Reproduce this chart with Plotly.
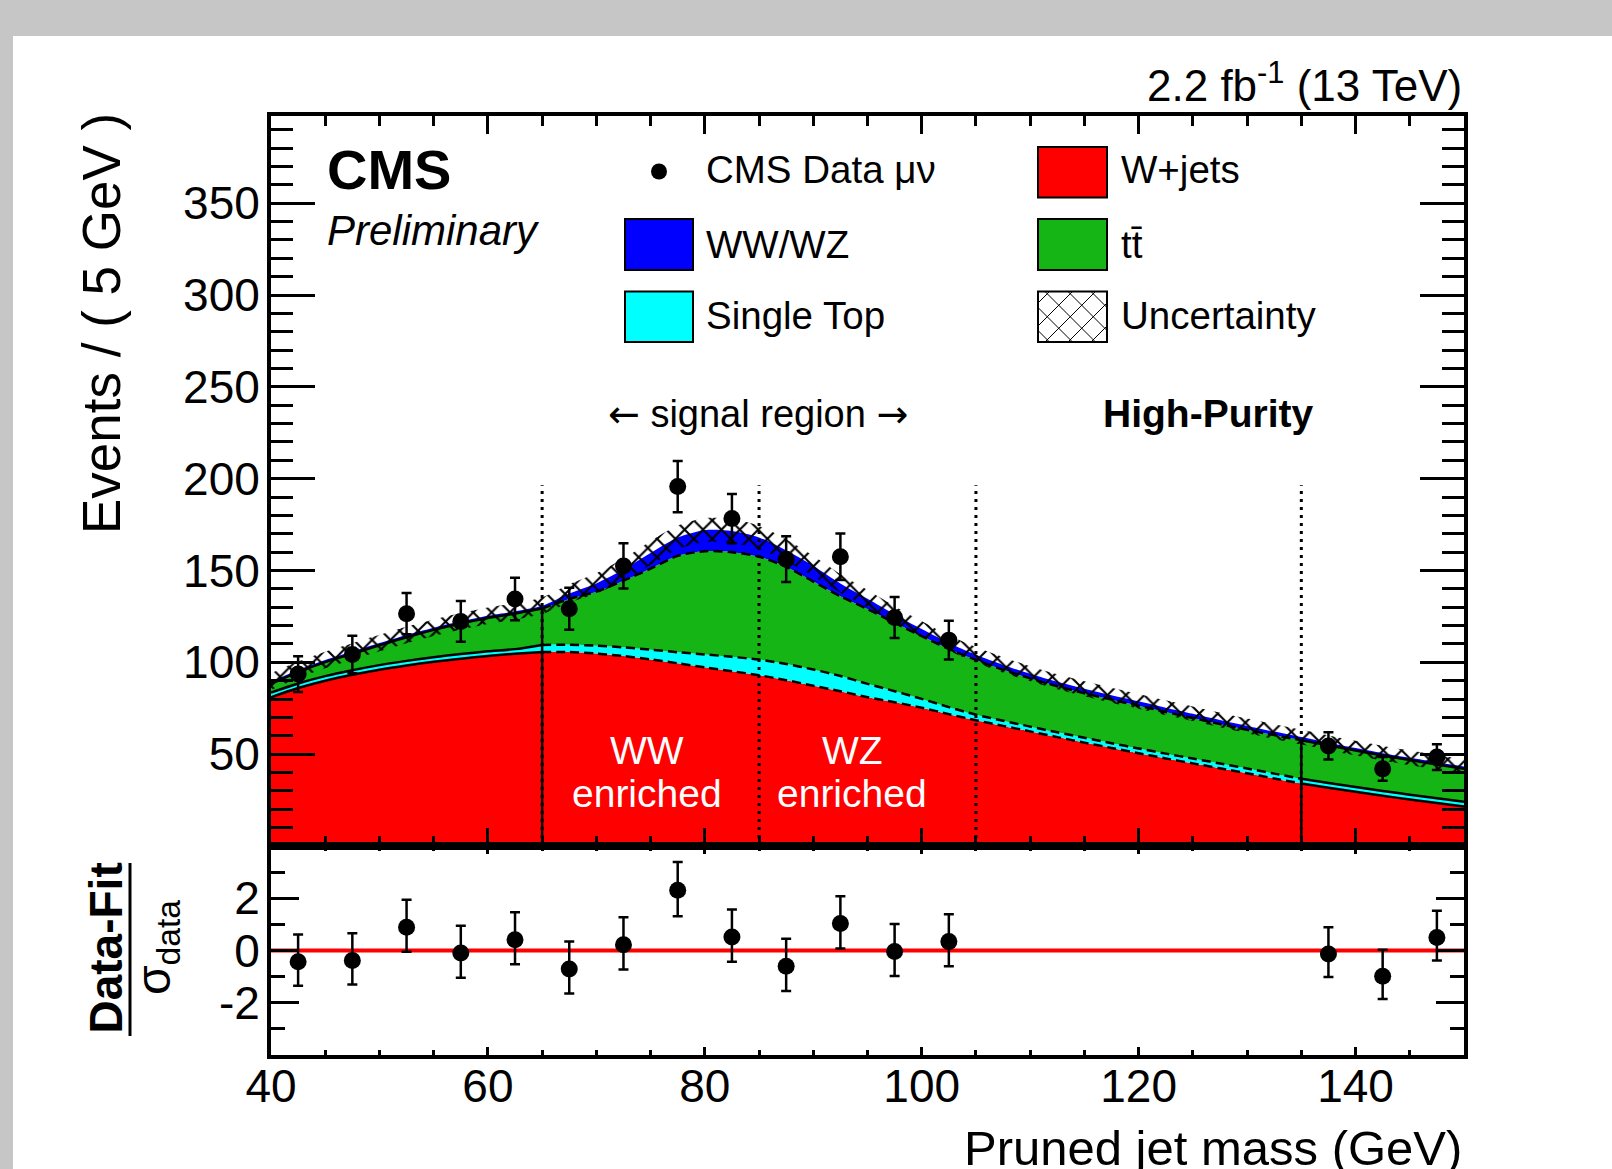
import numpy as np
import plotly.graph_objects as go

# ---------------- data ----------------
mass = [40.0, 42.5, 45.0, 47.5, 50.0, 52.5, 55.0, 57.5, 60.0, 62.5, 65.0,
        67.5, 70.0, 72.5, 75.0, 77.5, 80.0, 82.5, 85.0, 87.5, 90.0, 92.5,
        95.0, 97.5, 100.0, 102.5, 105.0, 107.5, 110.0, 112.5, 115.0, 117.5,
        120.0, 122.5, 125.0, 127.5, 130.0, 132.5, 135.0, 137.5, 140.0, 142.5,
        145.0, 147.5, 150.0]

wjets = [81.0, 86.0, 90.0, 93.2, 96.0, 98.3, 100.3, 102.0, 103.5, 104.7, 105.7,
         105.6, 104.8, 103.4, 101.6, 99.5, 97.3, 95.2, 93.0, 90.3, 87.3, 84.3,
         81.0, 78.3, 75.3, 71.8, 68.5, 65.4, 62.4, 59.3, 56.3, 53.4,
         50.5, 47.7, 45.0, 42.3, 39.6, 36.8, 34.0, 31.7, 29.5, 27.4,
         25.3, 23.4, 21.5]

single_top = [2.5, 2.5, 2.5, 2.5, 2.5, 2.5, 2.5, 2.5, 2.5, 2.5, 3.8,
              4.0, 4.3, 4.8, 5.3, 6.0, 7.0, 7.8, 8.5, 8.8, 8.8, 8.3,
              7.3, 6.0, 4.8, 3.8, 3.0, 2.8, 2.6, 2.6, 2.6, 2.6,
              2.6, 2.6, 2.6, 2.6, 2.6, 2.6, 2.6, 2.6, 2.6, 2.6,
              2.6, 2.6, 2.6]

ttbar = [4.8, 6.2, 7.6, 9.0, 10.8, 12.9, 14.9, 16.7, 18.2, 19.4, 19.8,
         24.9, 29.4, 36.3, 44.1, 52.5, 56.2, 57.0, 56.0, 52.9, 47.9, 43.4,
         40.7, 37.2, 34.2, 31.7, 29.8, 27.8, 26.3, 25.1, 24.3, 23.7,
         23.3, 22.7, 22.1, 21.5, 21.1, 21.0, 21.0, 20.5, 19.9, 19.3,
         18.9, 18.3, 17.9]

diboson = [1.2, 1.2, 1.2, 1.2, 1.2, 1.2, 1.2, 1.2, 1.2, 1.2, 1.5,
           3.0, 4.5, 6.0, 8.5, 10.0, 11.5, 11.5, 10.5, 9.0, 8.5, 7.0,
           5.6, 4.6, 3.8, 3.2, 2.8, 2.6, 2.5, 2.4, 2.4, 2.4,
           2.4, 2.3, 2.3, 2.2, 2.1, 1.9, 1.7, 1.4, 1.3, 1.2,
           1.2, 1.3, 1.3]

fit_unc = [4.5, 4.5, 4.5, 4.5, 4.5, 4.5, 4.5, 4.5, 4.5, 4.5, 4.5,
           5.0, 5.5, 6.0, 6.5, 6.5, 6.5, 6.5, 6.3, 6.0, 5.5, 5.0,
           4.8, 4.5, 4.3, 4.2, 4.2, 4.2, 4.1, 4.1, 4.1, 4.1,
           4.0, 4.0, 4.0, 4.0, 4.0, 4.0, 4.0, 4.0, 4.0, 4.0,
           4.0, 4.0, 4.0]

data_mass = [42.5, 47.5, 52.5, 57.5, 62.5, 67.5, 72.5, 77.5, 82.5, 87.5,
             92.5, 97.5, 102.5, 137.5, 142.5, 147.5]
data_events = [93.6, 104.3, 126.5, 122.3, 134.5, 129.2, 152.5, 195.7, 178.3, 156.2,
               157.5, 124.4, 112.1, 54.5, 42.0, 48.4]
data_err = [9.7, 10.2, 11.2, 11.1, 11.6, 11.4, 12.3, 14.0, 13.4, 12.5,
            12.6, 11.2, 10.6, 7.4, 6.5, 7.0]

pull = [-0.43, -0.38, 0.89, -0.10, 0.41, -0.71, 0.22, 2.31, 0.52, -0.60,
        1.03, -0.04, 0.34, -0.13, -0.99, 0.50]
pull_err_up = [1.04, 1.04, 1.05, 1.05, 1.05, 1.05, 1.05, 1.08, 1.05, 1.05,
               1.05, 1.05, 1.05, 1.02, 1.02, 1.02]
pull_err_dn = [0.92, 0.92, 0.94, 0.94, 0.94, 0.94, 0.95, 1.0, 0.95, 0.95,
               0.95, 0.94, 0.94, 0.88, 0.87, 0.88]

region_edges = [65, 85, 105, 135]
solid_edges = [65, 135]
region_line_top = 196.5

x_ticks = [40, 60, 80, 100, 120, 140]
y_ticks = [50, 100, 150, 200, 250, 300, 350]
pull_ticks = [-2, 0, 2]
pull_tick_text = ["-2", "0", "2"]
pull_minor = [-3, -1, 1, 3]

# ---------------- colours / fonts ----------------
C_RED, C_CYAN, C_GREEN, C_BLUE = "#ff0000", "#00ffff", "#15b515", "#0000ff"
GRAY = "#c5c6c5"
FONT = "Liberation Sans, Arial, Helvetica, sans-serif"

# ---------------- geometry (pixels) ----------------
W, H = 1612, 1169
L, R, T, B = 271, 148, 116, 114
PW, PH = W - L - R, H - T - B
SPLIT = (1055 - 846) / PH


def px(X):
    return (X - L) / PW


def py(Y):
    return 1 - (Y - T) / PH


m = np.array(mass)
c1 = np.array(wjets)
c2 = c1 + np.array(single_top)
c3 = c2 + np.array(ttbar)
c4 = c3 + np.array(diboson)
unc = np.array(fit_unc)

fig = go.Figure()

# stacked fills
for top, col, fill in [(c1, C_RED, "tozeroy"), (c2, C_CYAN, "tonexty"),
                       (c3, C_GREEN, "tonexty"), (c4, C_BLUE, "tonexty")]:
    fig.add_trace(go.Scatter(x=m, y=top, mode="lines", fill=fill, fillcolor=col,
                             line=dict(width=0, shape="spline", smoothing=0.8),
                             hoverinfo="skip", showlegend=False))

# boundary lines: solid in the sidebands, dashed in the signal region
seg_left = m <= 65
seg_sig = (m >= 65) & (m <= 135)
seg_right = m >= 135
for cum in (c1, c2, c3):
    for mask, dash in [(seg_left, "solid"), (seg_sig, "9px,5px"), (seg_right, "solid")]:
        fig.add_trace(go.Scatter(x=m[mask], y=cum[mask], mode="lines",
                                 line=dict(color="black", width=2.5, dash=dash,
                                           shape="spline", smoothing=0.8),
                                 hoverinfo="skip", showlegend=False))

# uncertainty hatch
fig.add_trace(go.Scatter(x=m, y=c4 + unc, mode="lines",
                         line=dict(width=0, shape="spline", smoothing=0.8),
                         hoverinfo="skip", showlegend=False))
fig.add_trace(go.Scatter(x=m, y=c4 - unc, mode="lines", fill="tonexty",
                         fillcolor="rgba(0,0,0,0)",
                         fillpattern=dict(shape="x", fgcolor="black", bgcolor="rgba(0,0,0,0)",
                                          fgopacity=1, size=13, solidity=0.3,
                                          fillmode="overlay"),
                         line=dict(width=0, shape="spline", smoothing=0.8),
                         hoverinfo="skip", showlegend=False))

# data
fig.add_trace(go.Scatter(x=data_mass, y=data_events, mode="markers",
                         marker=dict(color="black", size=17),
                         error_y=dict(type="data", array=data_err, color="black",
                                      thickness=2.5, width=5),
                         hoverinfo="skip", showlegend=False))

# pulls
fig.add_trace(go.Scatter(x=data_mass, y=pull, mode="markers", xaxis="x2", yaxis="y2",
                         marker=dict(color="black", size=17),
                         error_y=dict(type="data", symmetric=False, array=pull_err_up,
                                      arrayminus=pull_err_dn, color="black",
                                      thickness=2.5, width=5),
                         hoverinfo="skip", showlegend=False))

shapes = []
# gray page strips
shapes.append(dict(type="rect", xref="paper", yref="paper", x0=px(0), x1=px(W),
                   y0=py(0), y1=py(36), fillcolor=GRAY, line=dict(width=0), layer="below"))
shapes.append(dict(type="rect", xref="paper", yref="paper", x0=px(0), x1=px(13),
                   y0=py(0), y1=py(H), fillcolor=GRAY, line=dict(width=0), layer="below"))

# region lines
for e in region_edges:
    shapes.append(dict(type="line", xref="x", yref="y", x0=e, x1=e, y0=0, y1=region_line_top,
                       line=dict(color="black", width=3, dash="3px,5px"), layer="above"))
for e in solid_edges:
    shapes.append(dict(type="line", xref="x", yref="y", x0=e, x1=e, y0=0,
                       y1=float(np.interp(e, m, c3)),
                       line=dict(color="black", width=2.5), layer="above"))

# pull zero line
shapes.append(dict(type="line", xref="x2", yref="y2", x0=40, x1=150, y0=0, y1=0,
                   line=dict(color="red", width=4), layer="below"))

# fraction bar of the ratio title
shapes.append(dict(type="line", xref="paper", yref="paper", x0=px(130), x1=px(130),
                   y0=py(863), y1=py(1036), line=dict(color="black", width=3)))


# legend
def box(X0, Y0, X1, Y1, col):
    shapes.append(dict(type="rect", xref="paper", yref="paper", x0=px(X0), x1=px(X1),
                       y0=py(Y0), y1=py(Y1), fillcolor=col,
                       line=dict(color="black", width=2), layer="above"))


box(625, 219, 693, 270, C_BLUE)
box(625, 291.5, 693, 342, C_CYAN)
box(1038, 147, 1107, 197.5, C_RED)
box(1038, 219, 1107, 270, C_GREEN)
box(1038, 291.5, 1107, 342, "white")

shapes.append(dict(type="circle", xref="paper", yref="paper", x0=px(651), x1=px(667),
                   y0=py(163.5), y1=py(179.5), fillcolor="black", line=dict(width=0)))


def hatch(X0, Y0, X1, Y1, step):
    w, h = X1 - X0, Y1 - Y0
    for k in np.arange(-h + step / 2, w, step):
        us, ue = max(0, k), min(w, h + k)
        if ue > us:
            shapes.append(dict(type="line", xref="paper", yref="paper",
                               x0=px(X0 + us), y0=py(Y0 + us - k),
                               x1=px(X0 + ue), y1=py(Y0 + ue - k),
                               line=dict(color="black", width=1)))
    for k in np.arange(step / 2, w + h, step):
        us, ue = max(0, k - h), min(w, k)
        if ue > us:
            shapes.append(dict(type="line", xref="paper", yref="paper",
                               x0=px(X0 + us), y0=py(Y0 + k - us),
                               x1=px(X0 + ue), y1=py(Y0 + k - ue),
                               line=dict(color="black", width=1)))


hatch(1038, 291.5, 1107, 342, 23)

annotations = []


def ann(text, X, Y, size, xanchor="center", color="black", angle=0):
    annotations.append(dict(text=text, xref="paper", yref="paper", x=px(X), y=py(Y),
                            xanchor=xanchor, yanchor="middle", showarrow=False,
                            textangle=angle, font=dict(family=FONT, size=size, color=color)))


ARROW = '<span style="font-family:DejaVu Sans">%s</span>'

ann("Events / ( 5 GeV )", 101, 324, 53, angle=-90)
ann("<b>Data-Fit</b>", 105, 947.5, 46, angle=-90)
ann("σ<sub>data</sub>", 157, 948, 48, angle=-90)
ann("Pruned jet mass (GeV)", 1464, 1148, 49, xanchor="right")
ann("2.2 fb<sup>-1</sup> (13 TeV)", 1464, 82, 44, xanchor="right")
ann("<b>CMS</b>", 325, 170, 56, xanchor="left")
ann("<i>Preliminary</i>", 325, 230, 42, xanchor="left")

ann("CMS Data μν", 704, 170, 38.5, xanchor="left")
ann("WW/WZ", 704, 244.5, 38.5, xanchor="left")
ann("Single Top", 704, 316, 38.5, xanchor="left")
ann("W+jets", 1119, 170, 38.5, xanchor="left")
ann("tt\u0304", 1119, 244.5, 38.5, xanchor="left")
ann("Uncertainty", 1119, 316, 38.5, xanchor="left")

ann(ARROW % "←" + " signal region " + ARROW % "→", 758, 414, 38)
ann("<b>High-Purity</b>", 1208, 413, 39)
ann("WW", 647, 750, 39, color="white")
ann("enriched", 647, 793, 39, color="white")
ann("WZ", 852, 750, 39, color="white")
ann("enriched", 852, 793, 39, color="white")

common = dict(showgrid=False, zeroline=False, showline=True, linecolor="black", linewidth=4,
              mirror="allticks", ticks="inside", tickcolor="black", tickwidth=2.5,
              automargin=False, tickfont=dict(family=FONT, size=46, color="black"))

y_minor = [v for v in range(10, 400, 10) if v % 50]

fig.update_layout(
    width=W, height=H, autosize=False,
    margin=dict(l=L, r=R, t=T, b=B),
    paper_bgcolor="white", plot_bgcolor="white",
    showlegend=False, hovermode=False,
    font=dict(family=FONT, color="black"),
    xaxis=dict(domain=[0, 1], anchor="y", range=[40, 150], tickmode="array", tickvals=x_ticks,
               ticklen=18, showticklabels=False,
               minor=dict(dtick=5, tick0=40, ticklen=10, tickwidth=2.5, tickcolor="black",
                          ticks="inside", showgrid=False),
               **common),
    yaxis=dict(domain=[SPLIT, 1], anchor="x", range=[0, 397.5], tickmode="array",
               tickvals=y_ticks, ticklen=44, ticklabelstandoff=-2,
               minor=dict(tickmode="array", tickvals=y_minor, ticklen=22, tickwidth=2.5,
                          tickcolor="black", ticks="inside", showgrid=False),
               **common),
    xaxis2=dict(domain=[0, 1], anchor="y2", range=[40, 150], tickmode="array", tickvals=x_ticks,
                ticklen=8, ticklabelstandoff=-12,
                minor=dict(dtick=5, tick0=40, ticklen=5, tickwidth=2.5, tickcolor="black",
                           ticks="inside", showgrid=False),
                **common),
    yaxis2=dict(domain=[0, SPLIT], anchor="x2", range=[-4, 4], tickmode="array",
                tickvals=pull_ticks, ticktext=pull_tick_text, ticklen=28, ticklabelstandoff=-2,
                minor=dict(tickmode="array", tickvals=pull_minor, ticklen=14, tickwidth=2.5,
                           tickcolor="black", ticks="inside", showgrid=False),
                **common),
    shapes=shapes,
    annotations=annotations,
)

fig.write_html("out.html", config={"displayModeBar": False},
               post_script="document.body.style.margin='0px';")
